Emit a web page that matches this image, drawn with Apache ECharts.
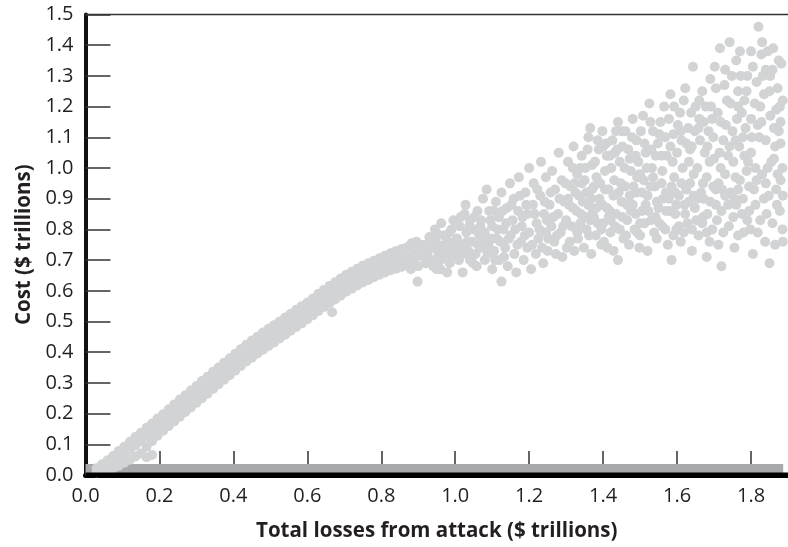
<!DOCTYPE html>
<html>
<head>
<meta charset="utf-8">
<script src="https://cdn.jsdelivr.net/npm/echarts@6/dist/echarts.min.js"></script>
<style>
html,body{margin:0;padding:0;background:#fff;}
#chart{width:788px;height:547px;}
</style>
</head>
<body>
<div id="chart"></div>
<script>
// Simulation runs: [total losses from attack ($T), cost ($T)] — narrow band at low losses
var runsLowLoss = [
[0.03,0.008],[0.03,0.022],[0.045,0.012],[0.045,0.035],[0.06,0.018],[0.06,0.048],
[0.075,0.022],[0.075,0.045],[0.075,0.062],[0.09,0.03],[0.09,0.056],[0.09,0.078],
[0.105,0.04],[0.105,0.068],[0.105,0.092],[0.12,0.05],[0.12,0.082],[0.12,0.108],
[0.135,0.06],[0.135,0.096],[0.135,0.124],[0.15,0.07],[0.15,0.11],[0.15,0.138],
[0.165,0.058],[0.165,0.092],[0.165,0.126],[0.165,0.154],[0.18,0.065],[0.18,0.11],[0.18,0.14],[0.18,0.168],
[0.195,0.128],[0.195,0.156],[0.195,0.184],[0.21,0.144],[0.21,0.172],[0.21,0.198],
[0.225,0.16],[0.225,0.187],[0.225,0.214],[0.24,0.174],[0.24,0.203],[0.24,0.23],
[0.255,0.19],[0.255,0.218],[0.255,0.246],[0.27,0.205],[0.27,0.232],[0.27,0.26],
[0.285,0.22],[0.285,0.248],[0.285,0.275],[0.3,0.235],[0.3,0.263],[0.3,0.29],
[0.315,0.25],[0.315,0.279],[0.315,0.306],[0.33,0.265],[0.33,0.293],[0.33,0.32],
[0.345,0.28],[0.345,0.308],[0.345,0.336],[0.36,0.296],[0.36,0.323],[0.36,0.35],
[0.375,0.31],[0.375,0.338],[0.375,0.366],[0.39,0.325],[0.39,0.353],[0.39,0.38],
[0.405,0.34],[0.405,0.368],[0.405,0.395],[0.42,0.355],[0.42,0.383],[0.42,0.41],
[0.435,0.37],[0.435,0.397],[0.435,0.424],[0.45,0.382],[0.45,0.41],[0.45,0.438],
[0.465,0.396],[0.465,0.423],[0.465,0.45],[0.48,0.408],[0.48,0.436],[0.48,0.464],
[0.495,0.42],[0.495,0.449],[0.495,0.476],[0.51,0.432],[0.51,0.46],[0.51,0.488],
[0.525,0.445],[0.525,0.472],[0.525,0.5],[0.54,0.457],[0.54,0.485],[0.54,0.513],
[0.555,0.47],[0.555,0.497],[0.555,0.525],[0.57,0.482],[0.57,0.51],[0.57,0.538],
[0.585,0.494],[0.585,0.522],[0.585,0.55],[0.6,0.507],[0.6,0.535],[0.6,0.562],
[0.615,0.52],[0.615,0.548],[0.615,0.575],[0.63,0.534],[0.63,0.562],[0.63,0.59],
[0.645,0.547],[0.645,0.575],[0.645,0.603],[0.66,0.56],[0.66,0.588],[0.66,0.616],
[0.667,0.53],[0.675,0.572],[0.675,0.6],[0.675,0.628],[0.69,0.584],[0.69,0.612],[0.69,0.64],
[0.705,0.597],[0.705,0.625],[0.705,0.652],[0.72,0.607],[0.72,0.635],[0.72,0.662],
[0.735,0.617],[0.735,0.645],[0.735,0.672],[0.75,0.627],[0.75,0.655],[0.75,0.682],
[0.765,0.635],[0.765,0.663],[0.765,0.69],[0.78,0.644],[0.78,0.672],[0.78,0.698],
[0.795,0.652],[0.795,0.68],[0.795,0.706],[0.81,0.66],[0.81,0.688],[0.81,0.714],
[0.825,0.667],[0.825,0.695],[0.825,0.722],[0.84,0.672],[0.84,0.7],[0.84,0.73],
[0.855,0.678],[0.855,0.706],[0.855,0.736],[0.87,0.684],[0.87,0.712],[0.87,0.742]
];
// Simulation runs at higher losses: wide spread
var runsHighLoss = [
[0.88,0.67],[0.885,0.70],[0.89,0.73],[0.882,0.755],[0.9,0.68],[0.905,0.715],[0.895,0.76],[0.91,0.745],[0.898,0.63],
[0.92,0.69],[0.925,0.72],[0.918,0.75],[0.93,0.775],[0.935,0.70],[0.94,0.74],[0.945,0.80],[0.95,0.67],[0.948,0.76],[0.955,0.72],
[0.96,0.70],[0.965,0.745],[0.97,0.78],[0.962,0.82],[0.975,0.72],[0.98,0.76],[0.985,0.69],[0.99,0.80],[0.988,0.74],[0.995,0.83],[0.978,0.66],
[1.0,0.72],[1.005,0.77],[1.01,0.70],[1.012,0.81],[1.02,0.75],[1.02,0.66],[1.025,0.85],[1.03,0.79],[1.035,0.73],[1.028,0.88],[1.04,0.83],[1.04,0.70],
[1.045,0.76],[1.05,0.80],[1.055,0.72],[1.06,0.86],[1.058,0.68],[1.065,0.78],[1.07,0.83],[1.07,0.74],[1.075,0.90],[1.08,0.70],
[1.08,0.79],[1.085,0.93],[1.09,0.75],[1.092,0.86],[1.10,0.81],[1.1,0.67],[1.105,0.73],[1.11,0.89],[1.112,0.77],[1.118,0.84],[1.12,0.70],
[1.125,0.63],[1.125,0.92],[1.13,0.80],[1.135,0.74],[1.14,0.87],[1.142,0.68],[1.148,0.95],[1.15,0.78],[1.155,0.83],[1.16,0.72],[1.158,0.90],
[1.165,0.66],[1.17,0.86],[1.172,0.97],[1.178,0.76],[1.18,0.81],[1.185,0.70],[1.19,0.92],[1.195,0.85],[1.195,0.74],[1.2,1.0],[1.2,0.79],
[1.205,0.67],[1.21,0.88],[1.212,0.95],[1.218,0.72],[1.22,0.82],[1.225,0.77],[1.23,0.91],[1.232,1.02],[1.238,0.69],[1.24,0.85],[1.245,0.79],[1.245,0.97],
[1.25,0.73],[1.255,0.88],[1.26,0.81],[1.262,0.99],[1.268,0.76],[1.27,0.93],[1.272,0.72],[1.278,0.85],[1.28,1.05],[1.285,0.79],[1.288,0.96],
[1.29,0.71],[1.295,0.89],[1.3,0.83],[1.305,1.02],[1.31,0.76],[1.312,0.94],[1.318,0.87],[1.32,1.07],[1.322,0.73],[1.328,0.80],[1.33,0.98],
[1.335,0.91],[1.34,0.85],[1.342,1.04],[1.348,0.74],[1.35,0.96],[1.355,0.80],[1.36,1.10],[1.36,0.88],[1.365,1.13],[1.368,0.72],[1.37,0.93],[1.37,1.01],
[1.375,0.84],[1.38,0.78],[1.382,0.97],[1.388,1.06],[1.39,0.90],[1.395,0.75],[1.398,1.12],[1.4,0.82],[1.405,0.99],[1.41,0.87],[1.41,1.04],
[1.415,0.93],[1.42,0.79],[1.425,1.09],[1.428,0.73],[1.43,0.96],[1.435,0.85],[1.44,1.15],[1.44,0.70],[1.445,1.02],[1.45,0.89],[1.45,1.12],[1.455,0.77],
[1.46,0.94],[1.465,0.83],[1.468,1.06],[1.47,0.75],[1.475,0.99],[1.48,1.16],[1.48,0.88],[1.485,0.80],[1.49,1.09],[1.49,0.92],[1.495,1.02],
[1.5,0.78],[1.505,0.86],[1.508,1.17],[1.51,0.96],[1.515,1.05],[1.52,0.73],[1.52,0.91],[1.525,1.21],[1.53,0.83],[1.532,1.0],[1.535,1.12],
[1.54,0.94],[1.545,0.77],[1.548,1.08],[1.55,0.87],[1.555,1.15],[1.56,0.99],[1.56,0.81],[1.565,1.20],[1.57,0.92],[1.572,1.04],[1.575,0.75],
[1.58,0.86],[1.582,1.24],[1.585,0.70],[1.59,1.11],[1.592,0.97],[1.598,0.80],[1.6,1.05],[1.605,0.91],[1.608,1.18],[1.61,0.76],[1.615,1.0],
[1.62,0.88],[1.622,1.26],[1.628,0.82],[1.63,1.13],[1.635,0.95],[1.64,0.73],[1.64,1.07],[1.643,1.33],[1.648,0.87],[1.65,1.20],[1.655,1.0],[1.658,0.78],
[1.66,1.16],[1.665,0.92],[1.668,1.25],[1.67,0.84],[1.675,1.05],[1.68,0.71],[1.68,0.97],[1.685,1.12],[1.69,0.89],[1.69,1.29],[1.695,0.80],
[1.7,1.03],[1.702,1.33],[1.705,0.93],[1.71,1.18],[1.712,0.75],[1.716,1.39],[1.72,0.86],[1.72,0.68],[1.725,1.09],[1.728,1.27],[1.73,0.98],[1.735,1.22],
[1.74,0.81],[1.742,1.41],[1.745,0.92],[1.75,1.12],[1.752,1.02],[1.755,0.74],[1.76,1.35],[1.76,0.88],[1.765,1.25],[1.768,1.07],[1.77,0.96],[1.775,1.18],
[1.78,0.79],[1.785,1.13],[1.788,0.99],[1.79,1.30],[1.795,0.86],[1.8,1.38],[1.8,1.05],[1.805,0.72],[1.808,0.93],[1.81,1.21],[1.815,1.28],
[1.82,1.46],[1.822,1.10],[1.825,0.83],[1.828,1.37],[1.83,0.98],[1.835,1.24],[1.838,0.76],[1.84,1.09],[1.845,1.38],[1.848,0.91],[1.85,0.69],[1.852,1.17],
[1.86,1.39],[1.862,1.03],[1.865,0.75],[1.868,1.19],[1.87,0.88],[1.872,1.26],[1.875,1.12],[1.88,0.96],[1.88,1.08],[1.885,0.80],
[0.89,0.69],[0.905,0.75],[0.915,0.71],[0.928,0.745],[0.94,0.68],[0.952,0.785],[0.965,0.71],[0.972,0.75],[0.985,0.79],[0.99,0.715],[0.998,0.76],[0.96,0.67],
[1.008,0.74],[1.015,0.84],[1.022,0.72],[1.032,0.76],[1.038,0.81],[1.048,0.69],[1.052,0.84],[1.062,0.75],[1.068,0.81],[1.078,0.76],[1.088,0.72],[1.095,0.83],[1.098,0.77],[1.105,0.86],[1.108,0.70],
[1.115,0.80],[1.122,0.76],[1.128,0.86],[1.132,0.71],[1.138,0.82],[1.145,0.77],[1.152,0.88],[1.162,0.80],[1.168,0.75],[1.175,0.91],[1.182,0.84],[1.188,0.78],[1.192,0.88],
[1.208,0.75],[1.215,0.85],[1.222,0.93],[1.228,0.80],[1.235,0.74],[1.242,0.89],[1.248,0.83],[1.252,0.77],[1.258,0.92],[1.265,0.84],[1.275,0.78],[1.282,0.90],[1.292,0.81],[1.298,0.95],
[1.302,0.74],[1.308,0.88],[1.315,0.81],[1.325,0.92],[1.332,0.77],[1.338,1.0],[1.345,0.89],[1.352,0.84],[1.358,1.06],[1.362,0.78],[1.372,0.86],[1.378,1.02],[1.385,0.82],[1.392,0.95],[1.398,0.88],
[1.402,0.76],[1.408,1.08],[1.418,0.86],[1.422,1.0],[1.432,0.81],[1.438,1.06],[1.442,0.92],[1.452,0.84],[1.458,1.0],[1.462,0.78],[1.472,0.91],[1.478,1.1],[1.488,0.85],[1.492,0.97],[1.498,0.74],
[1.502,1.12],[1.512,0.82],[1.518,1.0],[1.528,0.94],[1.538,0.79],[1.542,1.04],[1.552,0.82],[1.558,0.95],[1.568,1.1],[1.578,0.90],[1.588,1.02],[1.595,0.85],[1.602,1.14],[1.612,0.95],
[1.618,0.79],[1.625,1.08],[1.632,0.89],[1.638,1.18],[1.645,0.98],[1.652,0.83],[1.662,1.09],[1.672,0.90],[1.678,1.2],[1.688,1.02],[1.698,0.94],
[1.708,0.83],[1.715,1.05],[1.722,0.93],[1.732,1.14],[1.738,0.88],[1.748,1.3],[1.758,0.97],[1.762,1.16],[1.772,1.3],[1.778,0.9],[1.782,1.22],[1.792,1.02],[1.798,0.8],
[1.812,0.88],[1.818,1.14],[1.832,1.3],[1.842,0.85],[1.855,1.02],[1.858,1.32],[1.872,0.98],[1.878,1.2],[1.882,1.34],[1.886,0.91],
[1.305,0.90],[1.318,1.0],[1.328,0.86],[1.342,0.95],[1.355,0.92],[1.365,0.83],[1.375,0.94],[1.385,1.09],[1.395,0.80],[1.405,0.93],
[1.412,0.74],[1.418,1.04],[1.428,0.91],[1.435,1.12],[1.448,0.95],[1.452,1.07],[1.465,0.88],[1.472,1.03],[1.482,0.94],[1.492,0.79],
[1.505,0.92],[1.512,1.08],[1.522,0.86],[1.528,1.15],[1.535,0.97],[1.545,0.89],[1.552,1.11],[1.562,0.90],[1.568,0.80],[1.578,1.16],
[1.585,0.94],[1.592,1.20],[1.598,0.88],[1.605,0.81],[1.612,1.09],[1.618,1.22],[1.625,0.93],[1.632,1.02],[1.64,0.80],[1.648,1.12],
[1.655,0.90],[1.66,1.22],[1.668,0.82],[1.672,1.15],[1.682,1.07],[1.688,0.76],[1.692,1.2],[1.698,1.1],[1.705,1.26],[1.712,0.95],
[1.718,1.15],[1.725,0.79],[1.73,1.32],[1.738,1.04],[1.745,1.21],[1.752,0.84],[1.758,1.09],[1.765,0.93],[1.77,1.38],[1.775,0.85],
[1.782,1.04],[1.788,1.25],[1.795,0.94],[1.8,1.16],[1.805,1.33],[1.812,1.0],[1.818,0.79],[1.825,1.2],[1.83,1.41],[1.835,0.9],
[1.84,1.32],[1.845,1.0],[1.85,1.25],[1.858,0.82],[1.862,1.13],[1.868,0.93],[1.875,1.35],[1.88,1.15],[1.885,1.0],[1.886,0.76],
[1.322,0.95],[1.338,0.82],[1.352,1.0],[1.368,0.9],[1.382,0.87],[1.4,1.07],[1.415,0.84],[1.432,1.05],[1.445,0.8],[1.46,1.12],
[1.475,0.86],[1.488,1.04],[1.5,0.98],[1.515,0.88],[1.53,1.06],[1.542,0.84],[1.558,1.04],[1.57,0.86],[1.582,1.07],[1.595,0.92],
[1.61,1.12],[1.622,0.85],[1.635,1.06],[1.645,0.91],[1.658,1.13],[1.67,0.95],[1.682,0.85],[1.695,1.16],[1.705,0.88],[1.718,1.0],
[1.73,0.91],[1.742,1.07],[1.755,0.9],[1.765,1.2],[1.778,1.1],[1.79,0.83],[1.802,1.1],[1.815,0.96],[1.828,1.15],[1.84,0.95],
[1.852,1.3],[1.865,1.07],[1.878,0.86],[1.886,1.22],[1.765,0.78],[1.68,0.79],[1.59,0.78],[1.5,0.82],[1.42,0.83],[1.33,0.79]
];
// Dark grey band along the bottom (near-zero cost)
var bandX = [0, 1.887];
var bandY = [0.036, 0.036];
// Frame lines: baseline at cost 0 and top rule at cost 1.5
var frameX = [0, 1.9];
var baseY = [0, 0];
var topY = [1.5, 1.5];
var xTickValues = [0.2, 0.4, 0.6, 0.8, 1.0, 1.2, 1.4, 1.6, 1.8];
var xLabelValues = [0, 0.2, 0.4, 0.6, 0.8, 1.0, 1.2, 1.4, 1.6, 1.8];
var xTitle = 'Total losses from attack ($ trillions)';
var yTitle = 'Cost ($ trillions)';

var chart = echarts.init(document.getElementById('chart'));
var FONT = '"Open Sans", "DejaVu Sans", sans-serif';
function pairs(xs, ys) { return xs.map(function (x, i) { return [x, ys[i]]; }); }
chart.setOption({
  animation: false,
  backgroundColor: '#ffffff',
  grid: { left: 85.5, top: 14.5, right: 0, bottom: 72, containLabel: false, outerBoundsMode: 'none' },
  xAxis: {
    type: 'value', min: 0, max: 1.9, interval: 0.2,
    name: xTitle, nameLocation: 'middle', nameGap: 46,
    nameTextStyle: { fontFamily: FONT, fontWeight: 'bold', fontSize: 20.5, color: '#231f20' },
    axisLine: { show: true, onZero: false, lineStyle: { color: '#000000', width: 5 } },
    axisTick: { show: true, inside: true, length: 24, customValues: xTickValues, lineStyle: { color: '#333333', width: 1.5 } },
    axisLabel: { customValues: xLabelValues, margin: 11, fontFamily: FONT, fontSize: 20, color: '#231f20',
      formatter: function (v) { return v.toFixed(1); } },
    splitLine: { show: false }
  },
  yAxis: {
    type: 'value', min: 0, max: 1.5, interval: 0.1,
    name: yTitle, nameLocation: 'middle', nameGap: 46, nameRotate: 90,
    nameTextStyle: { fontFamily: FONT, fontWeight: 'bold', fontSize: 20.5, color: '#231f20' },
    axisLine: { show: true, lineStyle: { color: '#111111', width: 4 } },
    axisTick: { show: true, inside: true, length: 25, lineStyle: { color: '#333333', width: 1.5 } },
    axisLabel: { margin: 12, fontFamily: FONT, fontSize: 20, color: '#231f20',
      formatter: function (v) { return v.toFixed(1); } },
    splitLine: { show: false }
  },
  series: [{
    type: 'line', z: 1, silent: true,
    data: pairs(bandX, bandY),
    symbol: 'none', lineStyle: { width: 0 },
    areaStyle: { color: '#a7a9ac', opacity: 1 }
  }, {
    type: 'scatter', z: 2,
    data: runsLowLoss.concat(runsHighLoss),
    symbol: 'circle', symbolSize: 10,
    itemStyle: { color: '#d1d3d4', opacity: 1 }
  }, {
    type: 'line', z: 5, clip: false,
    data: pairs(frameX, baseY),
    symbol: 'none', lineStyle: { color: '#000000', width: 5 }
  }, {
    type: 'line', z: 5, clip: false,
    data: pairs(frameX, topY),
    symbol: 'none', lineStyle: { color: '#333333', width: 1.5 }
  }]
});
</script>
</body>
</html>
